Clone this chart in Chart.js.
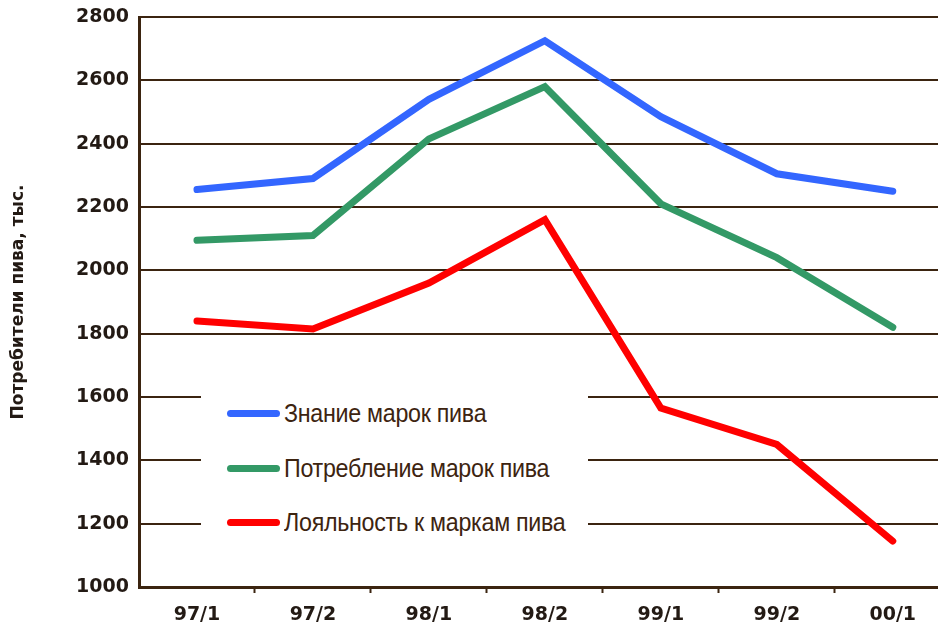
<!DOCTYPE html>
<html lang="ru">
<head>
    <meta charset="UTF-8">
    <title>Потребители пива</title>
    <script src="https://cdn.jsdelivr.net/npm/chart.js"></script>
    <style>
        body {
            margin: 0;
            background: #fff;
        }
        #wrap {
            position: relative;
            width: 938px;
            height: 627px;
        }
        #legend {
            position: absolute;
            left: 201px;
            top: 380px;
            width: 387px;
            height: 165px;
            background: #fff;
            font-family: "Liberation Sans", Arial, sans-serif;
            font-size: 25px;
            color: #3d2410;
        }
        .item {
            position: absolute;
            left: 26px;
            height: 30px;
            line-height: 30px;
            white-space: nowrap;
        }
        .swatch {
            display: inline-block;
            width: 53px;
            height: 7px;
            border-radius: 4px;
            vertical-align: middle;
            margin-right: 4px;
            position: relative;
            top: -2px;
        }
        .name {
            display: inline-block;
            transform: scaleX(0.93);
            transform-origin: left center;
            letter-spacing: -0.3px;
        }
    </style>
</head>
<body>
    <div id="wrap">
        <canvas id="beerChart" width="938" height="627"></canvas>
        <div id="legend"></div>
    </div>

    <script>
        // значения
        let periods = ["97/1", "97/2", "98/1", "98/2", "99/1", "99/2", "00/1"];
        let awareness = [2255, 2290, 2540, 2725, 2485, 2305, 2250];
        let consumption = [2095, 2110, 2415, 2580, 2210, 2040, 1820];
        let loyalty = [1840, 1815, 1960, 2160, 1565, 1450, 1145];
        let yTicks = [1000, 1200, 1400, 1600, 1800, 2000, 2200, 2400, 2600, 2800];

        let seriesNames = ["Знание марок пива", "Потребление марок пива", "Лояльность к маркам пива"];
        let seriesColors = ["#3366ff", "#339966", "#ff0000"];

        let brown = "#3b2410";
        let tickFont = { family: "DejaVu Sans", size: 19, weight: "bold" };

        function toPoints(values) {
            return values.map((v, i) => ({ x: i, y: v }));
        }

        let allSeries = [awareness, consumption, loyalty];
        let datasets = allSeries.map((values, i) => ({
            label: seriesNames[i],
            data: toPoints(values),
            borderColor: seriesColors[i],
            borderWidth: 7,
            borderCapStyle: "round",
            borderJoinStyle: "miter",
            pointRadius: 0,
            tension: 0,
            fill: false
        }));

        let ctx = document.getElementById("beerChart").getContext("2d");
        new Chart(ctx, {
            type: "line",
            data: { datasets: datasets },
            options: {
                responsive: false,
                animation: false,
                devicePixelRatio: 1,
                layout: { padding: { top: 17, right: 0, bottom: 0, left: 0 } },
                plugins: {
                    legend: { display: false },
                    tooltip: { enabled: false }
                },
                scales: {
                    x: {
                        type: "linear",
                        min: -0.5,
                        max: 6.39,
                        afterFit: s => { s.height = 40; s.paddingLeft = 0; s.paddingRight = 0; },
                        afterBuildTicks: s => {
                            let t = [];
                            for (let v = -0.5; v <= 6; v += 0.5) t.push({ value: v });
                            s.ticks = t;
                        },
                        border: { display: true, color: brown, width: 3 },
                        grid: {
                            drawOnChartArea: false,
                            drawTicks: true,
                            tickLength: 6,
                            tickWidth: 2,
                            tickColor: c => (c.tick && Math.abs(c.tick.value % 1) === 0.5 && c.tick.value > 0) ? brown : "rgba(0,0,0,0)"
                        },
                        ticks: {
                            autoSkip: false,
                            maxRotation: 0,
                            padding: 11,
                            color: "#231a14",
                            font: tickFont,
                            callback: v => Number.isInteger(v) ? periods[v] : ""
                        }
                    },
                    y: {
                        min: 1000,
                        max: 2800,
                        afterFit: s => { s.width = 139; s.paddingTop = 0; s.paddingBottom = 0; },
                        afterBuildTicks: s => { s.ticks = yTicks.map(v => ({ value: v })); },
                        border: { display: true, color: brown, width: 3 },
                        grid: {
                            color: brown,
                            lineWidth: 2,
                            drawTicks: false
                        },
                        ticks: {
                            padding: 10,
                            color: "#231a14",
                            font: tickFont,
                            callback: v => String(v)
                        },
                        title: {
                            display: true,
                            text: "Потребители пива, тыс.",
                            color: "#231a14",
                            font: { family: "DejaVu Sans", size: 17, weight: "bold" },
                            padding: { top: 8, bottom: 0 }
                        }
                    }
                }
            }
        });

        // легенда внутри области графика
        let legend = document.getElementById("legend");
        let itemTops = [18, 73, 127];
        seriesNames.forEach((name, i) => {
            let item = document.createElement("div");
            item.className = "item";
            item.style.top = itemTops[i] + "px";
            item.innerHTML = `<span class="swatch" style="background:${seriesColors[i]}"></span><span class="name">${name}</span>`;
            legend.appendChild(item);
        });
    </script>
</body>
</html>
